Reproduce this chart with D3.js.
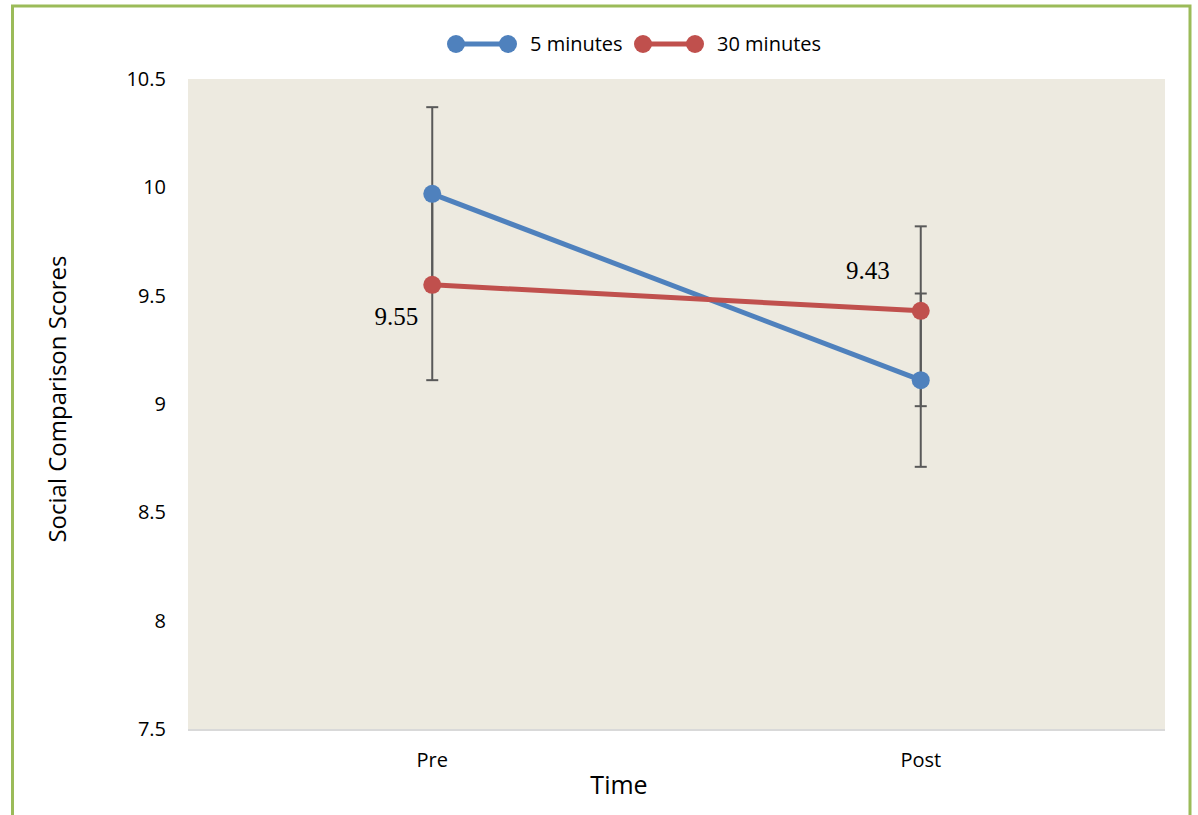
<!DOCTYPE html>
<html lang="en">
<head>
<meta charset="UTF-8">
<title>Social Comparison Scores</title>
<style>
body { margin: 0; background: #fff; }
text { font-family: "Open Sans", "DejaVu Sans", sans-serif; fill: #000; }
</style>
</head>
<body>
<script src="https://cdn.jsdelivr.net/npm/d3@7"></script>
<script>
// data
var times = ["Pre", "Post"];
var seriesNames = ["5 minutes", "30 minutes"];
var fiveMin = [9.97, 9.11];
var thirtyMin = [9.55, 9.43];
// error bar ends (upper, lower)
var fiveMinHi = [10.37, 9.51];
var fiveMinLo = [9.57, 8.71];
var thirtyMinHi = [9.99, 9.82];
var thirtyMinLo = [9.11, 8.99];
var yTicks = [7.5, 8, 8.5, 9, 9.5, 10, 10.5];
var colors = ["#4F81BD", "#C0504D"];

var width = 1198, height = 815;
var m = { left: 188, right: 1165, top: 79, bottom: 729 };

var svg = d3.select("body").append("svg")
  .attr("width", width).attr("height", height);

// green frame
svg.append("path")
  .attr("d", "M12.5 815 V6 H1190 V815")
  .attr("fill", "none").attr("stroke", "#9BBB59").attr("stroke-width", 3);

var x = d3.scaleBand().domain(times).range([m.left, m.right]);
var y = d3.scaleLinear().domain([7.5, 10.5]).range([m.bottom, m.top]);

svg.append("rect")
  .attr("x", m.left).attr("y", m.top)
  .attr("width", m.right - m.left).attr("height", m.bottom - m.top)
  .attr("fill", "#EDEAE0");
svg.append("line")
  .attr("x1", m.left).attr("x2", m.right)
  .attr("y1", m.bottom + 1).attr("y2", m.bottom + 1)
  .attr("stroke", "#D9D9D9").attr("stroke-width", 2);

// y axis
var yAxis = svg.append("g")
  .attr("transform", "translate(" + (m.left - 22) + ",0)")
  .call(d3.axisLeft(y).tickValues(yTicks).tickSize(0).tickPadding(0).tickFormat(d3.format("")));
yAxis.select(".domain").remove();
yAxis.selectAll("text").style("font-size", "20px")
  .style("font-family", "'Open Sans', sans-serif").attr("fill", "#000");

// x axis
var xAxis = svg.append("g")
  .attr("transform", "translate(0," + (m.bottom + 23) + ")")
  .call(d3.axisBottom(x).tickSize(0).tickPadding(0));
xAxis.select(".domain").remove();
xAxis.selectAll("text").style("font-size", "20px")
  .style("font-family", "'Open Sans', sans-serif").attr("fill", "#000").attr("dy", "0.75em");

svg.append("text").attr("x", 619).attr("y", 794)
  .attr("text-anchor", "middle").style("font-size", "25px").text("Time");
svg.append("text")
  .attr("transform", "translate(66,399) rotate(-90)")
  .attr("text-anchor", "middle").style("font-size", "24px")
  .text("Social Comparison Scores");

var series = [
  { name: seriesNames[0], values: fiveMin, hi: fiveMinHi, lo: fiveMinLo, color: colors[0] },
  { name: seriesNames[1], values: thirtyMin, hi: thirtyMinHi, lo: thirtyMinLo, color: colors[1] }
];
var cx = function (i) { return x(times[i]) + x.bandwidth() / 2; };

// error bars
series.forEach(function (s) {
  s.values.forEach(function (v, i) {
    var g = svg.append("g").attr("stroke", "#595959").attr("stroke-width", 2);
    g.append("line").attr("x1", cx(i)).attr("x2", cx(i))
      .attr("y1", y(s.hi[i])).attr("y2", y(s.lo[i]));
    [s.hi[i], s.lo[i]].forEach(function (e) {
      g.append("line").attr("x1", cx(i) - 6).attr("x2", cx(i) + 6)
        .attr("y1", y(e)).attr("y2", y(e));
    });
  });
});

var line = d3.line().x(function (d, i) { return cx(i); }).y(function (d) { return y(d); });
series.forEach(function (s) {
  svg.append("path").datum(s.values)
    .attr("d", line).attr("fill", "none")
    .attr("stroke", s.color).attr("stroke-width", 5);
  svg.selectAll(null).data(s.values).enter().append("circle")
    .attr("cx", function (d, i) { return cx(i); })
    .attr("cy", function (d) { return y(d); })
    .attr("r", 9).attr("fill", s.color);
});

// data labels for the 30 minutes series
var serif = "'Liberation Serif', 'Times New Roman', serif";
svg.append("text")
  .attr("x", cx(0) - 14).attr("y", y(thirtyMin[0]) + 40)
  .attr("text-anchor", "end").style("font-size", "25px").style("font-family", serif)
  .text(d3.format(".2f")(thirtyMin[0]));
svg.append("text")
  .attr("x", cx(1) - 31).attr("y", y(thirtyMin[1]) - 32)
  .attr("text-anchor", "end").style("font-size", "25px").style("font-family", serif)
  .text(d3.format(".2f")(thirtyMin[1]));

// legend
var legX = [456, 643];
series.forEach(function (s, i) {
  var g = svg.append("g").attr("transform", "translate(" + legX[i] + ",44)");
  g.append("line").attr("x1", 0).attr("x2", 52).attr("y1", 0).attr("y2", 0)
    .attr("stroke", s.color).attr("stroke-width", 5);
  g.append("circle").attr("cx", 0).attr("r", 9).attr("fill", s.color);
  g.append("circle").attr("cx", 52).attr("r", 9).attr("fill", s.color);
  g.append("text").attr("x", 74).attr("y", 0).attr("dy", "0.35em")
    .style("font-size", "20px").text(s.name);
});
</script>
</body>
</html>
